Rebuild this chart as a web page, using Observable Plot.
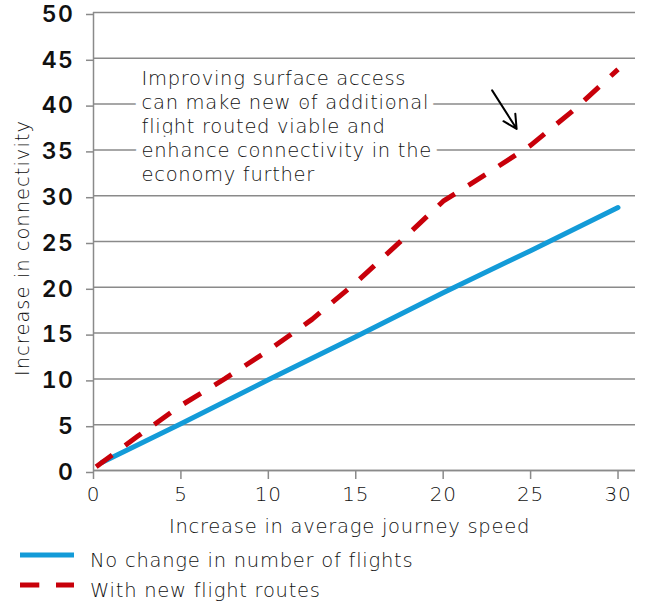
<!DOCTYPE html>
<html>
<head>
<meta charset="utf-8">
<script src="https://cdn.jsdelivr.net/npm/d3@7"></script>
<script src="https://cdn.jsdelivr.net/npm/@observablehq/plot@0.6"></script>
<style>
  body { margin: 0; background: #fff; }
  #wrap { position: relative; width: 650px; height: 604px; font-family: "DejaVu Sans", sans-serif; color: #111; }
  #wrap svg { position: absolute; left: 0; top: 0; overflow: visible; }
  #wrap svg g[aria-label="text"] { letter-spacing: 0.7px; }
  #wrap svg g[aria-label="x-axis tick label"] { letter-spacing: 0.8px; }
  #wrap svg g[aria-label="y-axis tick label"] { letter-spacing: 1.5px; }
  .lbl { position: absolute; white-space: nowrap; font-size: 19.5px; font-weight: 200; line-height: 1; letter-spacing: 0.75px; }
</style>
</head>
<body>
<div id="wrap"></div>
<script>
// ---- data ----
const blueX = [0.5, 5, 10, 15, 20, 25, 30];
const blueY = [0.9, 5.1, 9.9, 14.6, 19.4, 24.0, 28.7];
const redX = [0.15, 2.5, 5, 7.5, 10, 12.5, 15, 17.5, 20, 22.5, 25, 27.5, 30];
const redY = [0.4, 3.7, 7.1, 10.0, 13.1, 16.5, 20.5, 24.9, 29.4, 32.4, 35.5, 39.4, 43.8];
const xTicks = [0, 5, 10, 15, 20, 25, 30];
const yTicks = [0, 5, 10, 15, 20, 25, 30, 35, 40, 45, 50];
const seriesNames = ["No change in number of flights", "With new flight routes"];
const seriesColors = ["#139bd8", "#c8000a"];
const annotationText = "Improving surface access\ncan make new of additional\nflight routed viable and\nenhance connectivity in the\neconomy further";
const annotationPos = [{x: 2.75, y: 37.7}];
const arrowPos = [{x1: 22.8, y1: 41.5, x2: 24.2, y2: 37.3}];
const xLabel = "Increase in average journey speed";
const yLabel = "Increase in connectivity";

const blue = blueX.map((x, i) => ({x, y: blueY[i]}));
const red = redX.map((x, i) => ({x, y: redY[i]}));

const grid = "#8a8a8a";
const txtFont = "'DejaVu Sans', sans-serif";

const chart = Plot.plot({
  width: 650,
  height: 510,
  marginTop: 12,
  marginBottom: 40,
  marginLeft: 93,
  marginRight: 15,
  style: {fontFamily: txtFont, background: "white", overflow: "visible"},
  x: {domain: [0, 31], ticks: xTicks},
  y: {domain: [0, 50], ticks: yTicks},
  marks: [
    Plot.gridY(yTicks, {stroke: grid, strokeOpacity: 1, strokeWidth: 1.5}),
    Plot.axisY(yTicks, {tickSize: 7, stroke: grid, strokeWidth: 1.5, tickPadding: 12, fontSize: 23, fontWeight: 600, fontFamily: "Inter, sans-serif", fill: "#111", label: null, dy: 2}),
    Plot.axisX(xTicks, {tickSize: 9, stroke: grid, strokeWidth: 1.5, tickPadding: 7, fontSize: 20, fontWeight: 200, fill: "#111", label: null}),
    Plot.ruleX([0], {stroke: grid, strokeWidth: 1.5}),
    Plot.ruleY([0], {stroke: grid, strokeWidth: 1.5}),
    Plot.text(annotationPos, {x: "x", y: "y", text: () => annotationText, textAnchor: "start", lineAnchor: "middle", lineHeight: 1.226, fontSize: 19.5, fontWeight: 200, fill: "#111", stroke: "white", strokeWidth: 14, paintOrder: "stroke"}),
    Plot.line(blue, {x: "x", y: "y", stroke: seriesColors[0], strokeWidth: 5}),
    Plot.line(red, {x: "x", y: "y", stroke: seriesColors[1], strokeWidth: 5, strokeDasharray: "20,16", strokeLinecap: "butt"}),
    Plot.arrow(arrowPos, {x1: "x1", y1: "y1", x2: "x2", y2: "y2", stroke: "black", strokeWidth: 2, headLength: 14, headAngle: 55, bend: 0})
  ]
});

const wrap = document.getElementById("wrap");
wrap.appendChild(chart);

function addLabel(text, css) {
  const d = document.createElement("div");
  d.className = "lbl";
  d.textContent = text;
  Object.assign(d.style, css);
  wrap.appendChild(d);
  return d;
}
addLabel(xLabel, {left: "349.5px", top: "527px", transform: "translate(-50%,-50%)"});
addLabel(yLabel, {left: "23px", top: "247.5px", letterSpacing: "1px", transform: "translate(-50%,-50%) rotate(-90deg)"});

// legend
const legendLineY = [555, 585];
const legendTextY = [561, 591];
seriesNames.forEach((name, i) => {
  const s = document.createElementNS("http://www.w3.org/2000/svg", "svg");
  s.setAttribute("width", 80); s.setAttribute("height", 10);
  s.style.position = "absolute"; s.style.left = "0px"; s.style.top = (legendLineY[i] - 5) + "px";
  const l = document.createElementNS("http://www.w3.org/2000/svg", "line");
  l.setAttribute("x1", 20); l.setAttribute("x2", 74); l.setAttribute("y1", 5); l.setAttribute("y2", 5);
  l.setAttribute("stroke", seriesColors[i]); l.setAttribute("stroke-width", 5);
  if (i === 1) l.setAttribute("stroke-dasharray", "19.3,16.7");
  s.appendChild(l);
  wrap.appendChild(s);
  addLabel(name, {left: "90px", top: legendTextY[i] + "px", transform: "translateY(-50%)"});
});
</script>
</body>
</html>
